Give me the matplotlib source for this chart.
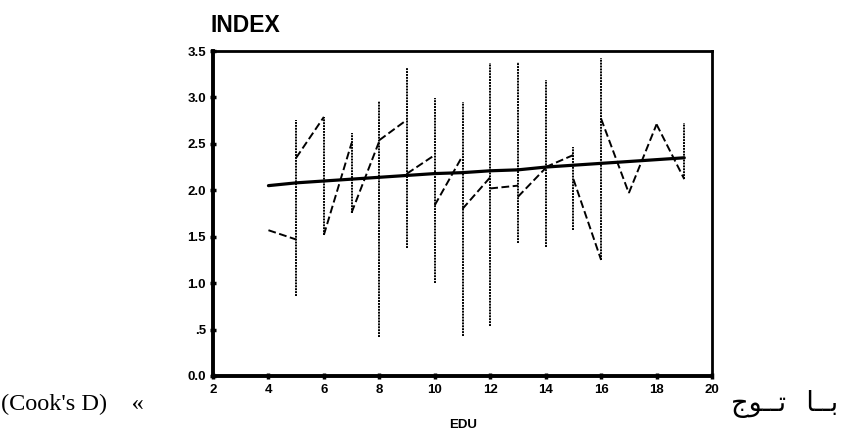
import matplotlib
matplotlib.use("Agg")
import matplotlib.pyplot as plt
import numpy as np

edu = [4, 5, 6, 7, 8, 9, 10, 11, 12, 13, 14, 15, 16, 17, 18, 19]
y_low = [1.57, 0.86, 1.52, 1.76, 0.42, 1.38, 1.00, 0.43, 0.54, 1.43, 1.39, 1.57, 1.25, 1.97, 2.71, 2.12]
y_high = [1.57, 2.76, 2.79, 2.62, 2.96, 3.32, 2.99, 2.95, 3.37, 3.38, 3.19, 2.47, 3.42, 1.97, 2.71, 2.72]
y_in = [1.57, 1.47, 2.79, 2.51, 2.53, 2.76, 2.38, 2.37, 2.14, 2.05, 2.24, 2.38, 1.25, 1.97, 2.71, 2.12]
y_out = [1.57, 2.35, 1.52, 1.76, 2.54, 2.18, 1.84, 1.80, 2.02, 1.93, 2.25, 2.12, 2.77, 1.97, 2.71, 2.12]
fit = [2.05, 2.08, 2.10, 2.12, 2.14, 2.16, 2.18, 2.19, 2.21, 2.22, 2.25, 2.27, 2.29, 2.31, 2.33, 2.35]

xticks = [2, 4, 6, 8, 10, 12, 14, 16, 18, 20]
yticks = [0.0, 0.5, 1.0, 1.5, 2.0, 2.5, 3.0, 3.5]
ylabels = ['0.0', '.5', '1.0', '1.5', '2.0', '2.5', '3.0', '3.5']

fig = plt.figure(figsize=(8.41, 4.37), dpi=100)
ax = fig.add_axes([213/841, 1-376/437, (712-213)/841, (376-51)/437])

# vertical spread at each EDU value
ax.vlines(edu, y_low, y_high, colors='black', linestyles=(0, (1, 0.5)), linewidth=1.4)

# dashed segments joining consecutive EDU values
for i in range(len(edu)-1):
    ax.plot([edu[i], edu[i+1]], [y_out[i], y_in[i+1]], color='black',
            linestyle=(0, (4, 1.8)), linewidth=1.4)

# fitted line
ax.plot(edu, fit, color='black', linewidth=2.3, solid_capstyle='round')

ax.set_xlim(2, 20)
ax.set_ylim(0, 3.5)
ax.set_xticks(xticks)
ax.set_xticklabels([str(t) for t in xticks])
ax.set_yticks(yticks)
ax.set_yticklabels(ylabels)
for lab in ax.get_xticklabels() + ax.get_yticklabels():
    lab.set_fontweight('bold')
    lab.set_family('Liberation Sans')
ax.tick_params(axis='both', direction='inout', length=4, width=2.5, labelsize=9.5)
ax.tick_params(axis='x', pad=4)
ax.tick_params(axis='y', pad=3)

for s in ['left', 'bottom']:
    ax.spines[s].set_linewidth(2.8)
for s in ['top', 'right']:
    ax.spines[s].set_linewidth(2.0)

fig.text(210/841, 1-32/437, 'INDEX', fontsize=16.5, fontweight='bold',
         family='Liberation Sans', ha='left', va='baseline')
fig.text(463/841, 1-425/437, 'EDU', fontsize=9.5, fontweight='bold',
         family='Liberation Sans', ha='center', va='center')

fig.text(1/841, 1-404/437, "(Cook's D)    \u00ab", fontsize=17.5,
         family=['Liberation Serif', 'DejaVu Sans'], ha='left', va='center')
fig.text(838/841, 1-404/437, "\uFE9D\uFEEE\u0640\u0640\uFE97   \uFE8E\u0640\u0640\uFE91",
         fontsize=19.5, family=['Liberation Serif', 'DejaVu Sans'], ha='right', va='center')

plt.savefig("out.png")
